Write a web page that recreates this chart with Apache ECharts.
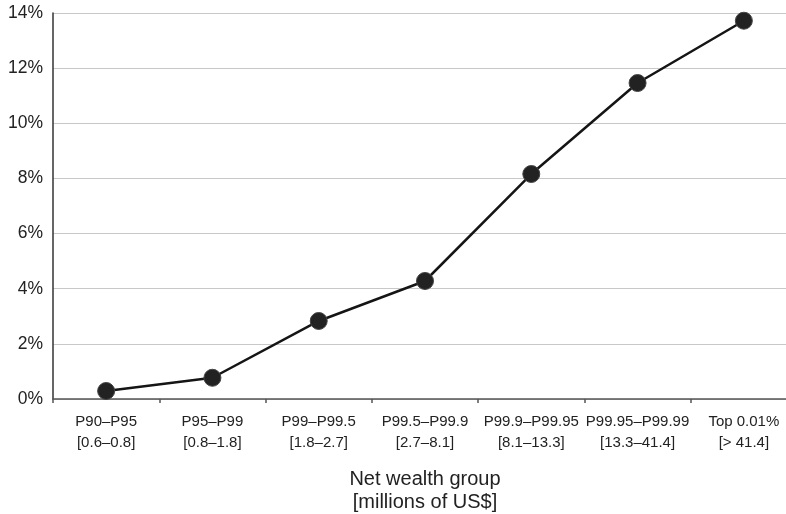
<!DOCTYPE html>
<html><head><meta charset="utf-8">
<script src="https://cdn.jsdelivr.net/npm/echarts@6/dist/echarts.min.js"></script>
<style>html,body{margin:0;padding:0;background:#fff;overflow:hidden}#c{width:786px;height:514px}</style>
</head><body><div id="c"></div>
<script>
var groups = ['P90–P95', 'P95–P99', 'P99–P99.5', 'P99.5–P99.9', 'P99.9–P99.95', 'P99.95–P99.99', 'Top 0.01%'];
var ranges = ['[0.6–0.8]', '[0.8–1.8]', '[1.8–2.7]', '[2.7–8.1]', '[8.1–13.3]', '[13.3–41.4]', '[> 41.4]'];
var values = [0.29, 0.77, 2.83, 4.28, 8.16, 11.46, 13.72];
var yTicks = [0, 2, 4, 6, 8, 10, 12, 14];

var cats = groups.map(function (g, i) { return g + '\n' + ranges[i]; });
var chart = echarts.init(document.getElementById('c'));
chart.setOption({
  animation: false,
  grid: { left: 53, right: -11, top: 13, bottom: 115, outerBoundsMode: 'none', containLabel: false },
  xAxis: {
    type: 'category',
    data: cats,
    boundaryGap: true,
    name: 'Net wealth group\n[millions of US$]',
    nameLocation: 'middle',
    nameGap: 69,
    nameTextStyle: { fontFamily: 'Liberation Sans', fontSize: 20, color: '#222', lineHeight: 23 },
    axisLine: { lineStyle: { color: '#555', width: 1.5 } },
    axisTick: { show: true, length: 4, lineStyle: { color: '#555', width: 1.5 } },
    axisLabel: { fontFamily: 'Liberation Sans', fontSize: 15, color: '#222', margin: 12, lineHeight: 21, interval: 0 },
    splitLine: { show: false }
  },
  yAxis: {
    type: 'value',
    min: yTicks[0], max: yTicks[yTicks.length - 1], interval: 2,
    axisLine: { show: true, lineStyle: { color: '#333', width: 1.5 } },
    axisTick: { show: false },
    axisLabel: { fontFamily: 'Liberation Sans', fontSize: 17.5, color: '#222', margin: 10, formatter: '{value}%' },
    splitLine: { lineStyle: { color: '#c8c8c8', width: 1.2 } }
  },
  series: [{
    type: 'line',
    data: values,
    symbol: 'circle',
    symbolSize: 17,
    lineStyle: { color: '#151515', width: 2.5 },
    itemStyle: { color: '#222', borderColor: '#444', borderWidth: 1 }
  }]
});
</script></body></html>
